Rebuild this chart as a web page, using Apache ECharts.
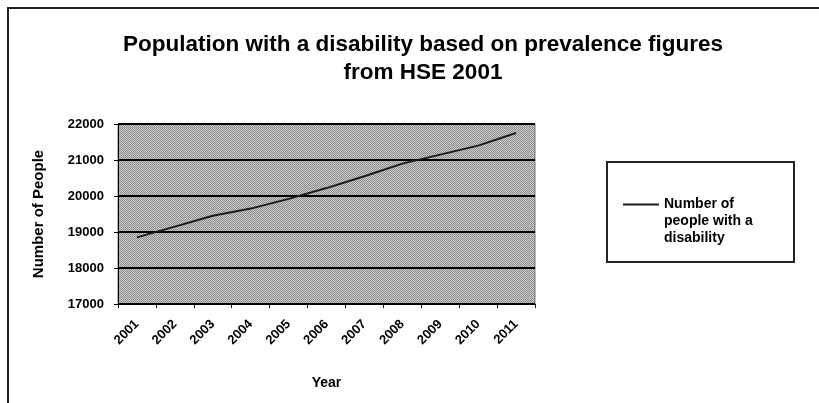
<!DOCTYPE html>
<html>
<head>
<meta charset="utf-8">
<title>Population with a disability</title>
<script src="https://cdn.jsdelivr.net/npm/echarts@6/dist/echarts.min.js"></script>
<style>
    html, body { margin: 0; padding: 0; background: #fff; }
    #chart { width: 819px; height: 403px; }
</style>
</head>
<body>
<div id="chart"></div>
<script>
    // data
    var years = ['2001', '2002', '2003', '2004', '2005', '2006', '2007', '2008', '2009', '2010', '2011'];
    var disabled = [18850, 19150, 19450, 19650, 19920, 20220, 20550, 20900, 21150, 21400, 21750];
    var seriesName = 'Number of people with a disability';

    // dithered grey like the old Excel plot area
    var tile = document.createElement('canvas');
    tile.width = 2;
    tile.height = 2;
    var ctx = tile.getContext('2d');
    ctx.fillStyle = '#cacaca';
    ctx.fillRect(0, 0, 2, 2);
    ctx.fillStyle = '#8e8e8e';
    ctx.fillRect(0, 0, 1, 1);
    ctx.fillRect(1, 1, 1, 1);

    var chart = echarts.init(document.getElementById('chart'));
    var option = {
        backgroundColor: '#fff',
        animation: false,
        textStyle: { fontFamily: 'Liberation Sans, Arial, sans-serif', color: '#000' },
        title: {
            text: 'Population with a disability based on prevalence figures\nfrom HSE 2001',
            left: 418,
            top: 26,
            textAlign: 'center',
            textStyle: { fontSize: 22.5, fontWeight: 'bold', lineHeight: 28, color: '#000' }
        },
        graphic: [
            {
                type: 'rect',
                shape: { x: 8, y: 8, width: 830, height: 420 },
                style: { fill: 'none', stroke: '#222', lineWidth: 2 },
                silent: true
            },
            {
                type: 'rect',
                shape: { x: 607, y: 162, width: 187, height: 100 },
                style: { fill: '#fff', stroke: '#222', lineWidth: 2 },
                silent: true,
                z: 0
            }
        ],
        legend: {
            left: 623,
            top: 162,
            padding: 0,
            icon: 'rect',
            itemWidth: 36,
            itemHeight: 2,
            itemStyle: { color: '#1a1a1a' },
            data: [seriesName],
            // two empty lines on top so the line sample sits beside the first text line
            formatter: function () {
                return '\n\nNumber of\npeople with a\ndisability';
            },
            textStyle: { fontSize: 14, fontWeight: 'bold', lineHeight: 17, color: '#000' }
        },
        grid: {
            left: 118,
            top: 124,
            width: 417,
            height: 180,
            show: true,
            backgroundColor: { image: tile, repeat: 'repeat' },
            borderColor: '#777',
            borderWidth: 1
        },
        xAxis: {
            type: 'category',
            data: years,
            boundaryGap: true,
            name: 'Year',
            nameLocation: 'middle',
            nameGap: 72,
            nameTextStyle: { fontSize: 14, fontWeight: 'bold', color: '#000' },
            axisLine: { lineStyle: { color: '#000', width: 1 } },
            axisTick: { show: true, interval: 0, length: 4, lineStyle: { color: '#000' } },
            axisLabel: { rotate: 45, margin: 18, fontSize: 13, fontWeight: 'bold', color: '#000', interval: 0 }
        },
        yAxis: {
            type: 'value',
            min: 17000,
            max: 22000,
            interval: 1000,
            name: 'Number of People',
            nameLocation: 'middle',
            nameGap: 72,
            nameTextStyle: { fontSize: 15, fontWeight: 'bold', color: '#000' },
            axisLine: { show: true, lineStyle: { color: '#000', width: 1 } },
            axisTick: { show: true, length: 4, lineStyle: { color: '#000' } },
            axisLabel: {
                fontSize: 13,
                fontWeight: 'bold',
                color: '#000',
                margin: 14,
                formatter: function (v) { return String(v); }
            },
            splitLine: { show: true, lineStyle: { color: '#000', width: 2 } }
        },
        series: [
            {
                name: seriesName,
                type: 'line',
                data: disabled,
                symbol: 'none',
                lineStyle: { color: '#1a1a1a', width: 2 },
                itemStyle: { color: '#1a1a1a' }
            }
        ]
    };
    chart.setOption(option);
    window.addEventListener('resize', chart.resize);
</script>
</body>
</html>
